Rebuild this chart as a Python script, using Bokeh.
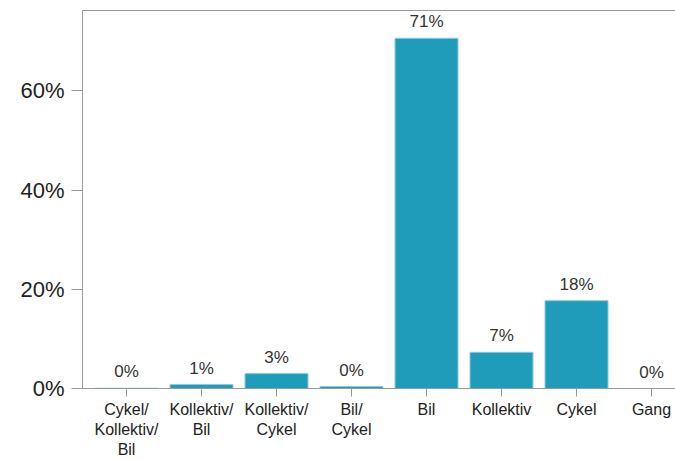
from bokeh.plotting import figure
from bokeh.models import (ColumnDataSource, LabelSet, FixedTicker, PrintfTickFormatter,
                          Range1d, LinearAxis)
from bokeh.core.properties import value
from bokeh.embed import file_html
from bokeh.resources import INLINE

categories = ["Cykel/\nKollektiv/\nBil", "Kollektiv/\nBil", "Kollektiv/\nCykel", "Bil/\nCykel",
              "Bil", "Kollektiv", "Cykel", "Gang"]
shares = [0.05, 0.8, 3.0, 0.4, 70.6, 7.3, 17.7, 0.0]
y_ticks = [0, 20, 40, 60]

idx = list(range(len(categories)))
labels = [f"{round(v)}%" for v in shares]
src = ColumnDataSource(dict(x=idx, top=shares, label=labels))

FONT = "Liberation Sans"
AXIS_COL = "#9a9a9a"

p = figure(width=675, height=461, output_backend="svg", toolbar_location=None,
           x_range=Range1d(-0.587, 7.32), y_range=Range1d(0, 76.2),
           min_border_left=82, min_border_right=0, min_border_top=10, min_border_bottom=0)
p.outline_line_color = None
p.xgrid.grid_line_color = None
p.ygrid.grid_line_color = None
p.background_fill_color = "white"
p.border_fill_color = "white"

p.vbar(x="x", top="top", width=0.84, bottom=0, source=src,
       fill_color="#1e9cba", line_color="#8ccbdc", line_width=1)

p.add_layout(LabelSet(x="x", y="top", text="label", source=src, y_offset=7,
                      text_align="center", text_baseline="bottom",
                      text_font=value(FONT), text_font_size="17px", text_color="#333333"))

xa = p.xaxis[0]
xa.ticker = FixedTicker(ticks=idx)
xa.major_label_overrides = {i: c for i, c in zip(idx, categories)}
xa.major_label_text_font = FONT
xa.major_label_text_font_size = "16px"
xa.major_label_text_color = "#222222"
xa.major_label_standoff = 4
xa.major_tick_out = 8
xa.major_tick_in = 0
xa.minor_tick_line_color = None
xa.axis_line_color = AXIS_COL
xa.major_tick_line_color = AXIS_COL

ya = p.yaxis[0]
ya.ticker = FixedTicker(ticks=y_ticks)
ya.formatter = PrintfTickFormatter(format="%d%%")
ya.major_label_text_font = FONT
ya.major_label_text_font_size = "22px"
ya.major_label_text_color = "#222222"
ya.major_label_standoff = 7
ya.major_tick_out = 11
ya.major_tick_in = 0
ya.minor_tick_line_color = None
ya.axis_line_color = AXIS_COL
ya.major_tick_line_color = AXIS_COL

top_axis = LinearAxis(major_tick_line_color=None, minor_tick_line_color=None,
                      major_label_text_font_size="0px", axis_line_color=AXIS_COL,
                      major_label_standoff=0)
top_axis.ticker = FixedTicker(ticks=[])
p.add_layout(top_axis, "above")

open("out.html", "w").write(file_html(p, INLINE))
